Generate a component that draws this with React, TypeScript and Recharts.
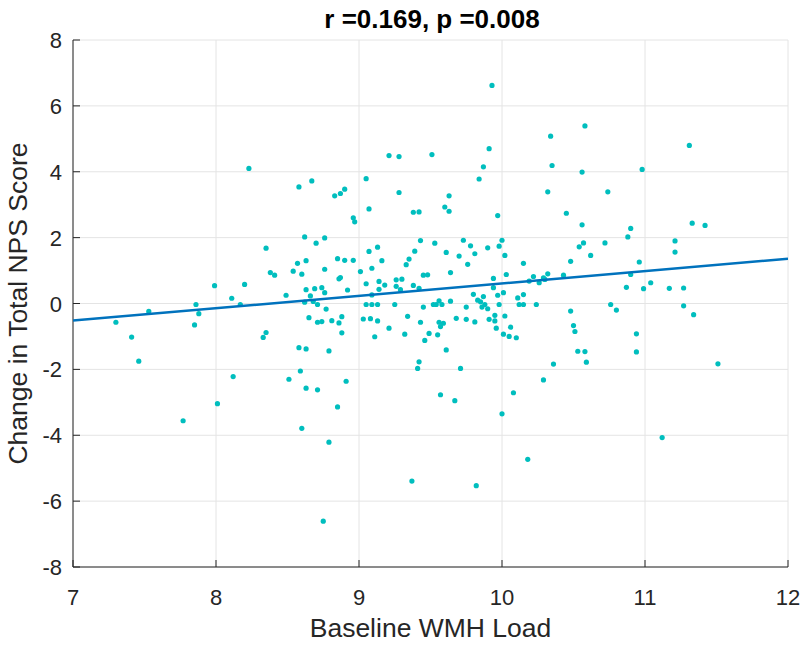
import React from 'react';
import { ScatterChart, Scatter, XAxis, YAxis, CartesianGrid } from 'recharts';

const xs = [
  8.23, 8.58, 8.67, 8.62, 8.70, 8.35, 8.63, 8.57, 8.38, 8.41, 8.54, 8.60, 7.99, 8.20, 8.11, 8.49, 8.63, 8.69, 8.66,
  9.93, 9.91, 9.87, 9.84, 9.21, 9.28, 9.51, 9.05, 8.83, 8.87, 8.90, 9.28, 9.07, 8.96, 8.97, 9.38, 9.42, 9.60, 9.63, 9.63, 9.97,
  8.76, 8.85, 8.90, 8.96, 8.76, 8.86, 8.87, 8.74, 8.76, 8.92, 9.01, 9.07, 9.13, 9.16, 9.09, 9.05, 9.09, 9.14, 9.14, 9.18,
  9.26, 9.30, 9.26, 9.29, 9.33, 9.35, 9.39, 9.43, 9.53, 9.38, 9.42, 9.45, 9.48, 9.61, 9.64, 9.73, 9.70, 9.76, 9.78, 9.81,
  9.90, 9.98, 10.00, 10.02, 10.03, 9.94, 9.94, 9.97, 10.01, 9.80, 9.87, 10.11, 10.15, 10.15, 10.19, 10.22, 10.26,
  10.58, 10.34, 11.31, 10.35, 10.56, 10.98, 10.32, 10.74, 10.45, 10.56, 10.90, 10.88, 11.33, 11.42, 11.21, 11.21, 10.57,
  10.54, 10.72, 10.62, 10.48, 10.96, 10.32, 10.43, 10.29, 10.30, 10.90, 10.87, 10.99, 11.04, 11.17, 11.27,
  7.86, 7.53, 7.88, 7.30, 7.85, 7.41, 7.46, 7.77, 8.01, 8.12, 8.17, 8.62, 8.68, 8.71, 8.65, 8.71, 8.33, 8.35, 8.58, 8.63,
  8.59, 8.51, 8.63, 8.71, 8.60,
  8.77, 8.74, 8.81, 8.86, 8.88, 8.88, 8.79, 8.91, 8.85, 8.79, 8.75, 9.37, 9.82, 10.18, 10.00, 10.08, 9.57, 9.67, 9.41, 9.42,
  9.71, 9.61, 9.32, 9.11, 9.21, 9.03, 9.08, 9.13, 9.34, 9.43, 9.46, 9.49, 9.55, 9.56, 9.57, 9.59, 9.56, 9.05, 9.09, 9.13,
  9.25, 9.45, 9.52, 9.54, 9.58, 9.64, 9.68, 9.75, 9.75, 9.81, 9.83, 9.85, 9.86, 9.88, 9.90, 9.91, 9.95, 9.95, 9.96, 9.98,
  10.02, 10.01, 10.05, 10.06, 10.10, 10.12, 10.15, 10.24,
  11.12, 10.29, 10.36, 11.51, 10.48, 10.50, 10.51, 10.53, 10.58, 10.59, 10.76, 10.80, 10.94, 10.94, 11.27, 11.34,
];
const ys = [
  4.10, 3.54, 3.72, 2.02, 1.83, 1.68, 1.30, 1.22, 0.94, 0.86, 0.98, 0.89, 0.54, 0.58, 0.16, 0.25, 0.42, 0.45, 0.23,
  6.62, 4.70, 4.15, 3.78, 4.49, 4.46, 4.52, 3.79, 3.27, 3.34, 3.47, 3.37, 2.87, 2.60, 2.48, 2.77, 2.78, 2.93, 3.27, 2.80, 2.67,
  1.99, 1.36, 1.31, 1.31, 1.04, 0.75, 0.79, 0.48, 0.33, 0.41, 0.97, 1.58, 1.71, 1.30, 1.07, 0.60, 0.26, 0.67, 0.43, 0.56,
  0.72, 0.74, 0.52, 0.42, 1.18, 1.35, 1.59, 1.91, 1.83, 0.55, 0.46, 0.86, 0.87, 1.55, 0.94, 1.92, 1.44, 1.19, 1.75, 1.51,
  1.69, 1.74, 1.92, 1.46, 0.88, 0.76, 0.48, 0.25, 0.33, 0.28, 0.21, 0.17, 0.27, 1.22, 0.68, 0.82, 0.63,
  5.39, 5.08, 4.80, 4.19, 3.99, 4.07, 3.39, 3.39, 2.74, 2.39, 2.28, 2.02, 2.44, 2.37, 1.90, 1.56, 1.84,
  1.72, 1.84, 1.46, 1.28, 1.26, 0.90, 0.86, 0.78, 0.73, 0.88, 0.49, 0.45, 0.63, 0.46, 0.47,
  -0.03, -0.24, -0.31, -0.57, -0.65, -1.02, -1.75, -3.56, -3.04, -2.22, -0.03, 0.04, 0.06, -0.03, -0.43, -0.57, -1.03, -0.88, -1.34, -1.38,
  -2.05, -2.30, -2.57, -2.62, -3.79,
  -0.17, -0.55, -0.52, -0.59, -0.40, -0.89, -1.44, -2.36, -3.14, -4.21, -6.61, -5.39, -5.53, -4.73, -3.35, -2.71, -2.77, -2.95, -1.97, -1.77,
  -1.97, -1.41, -0.93, -1.01, -0.75, -0.47, -0.46, -0.53, -0.39, -0.57, -1.12, -0.91, -0.95, -0.57, -0.70, -0.60, 0.08, -0.03, -0.03, -0.03,
  -0.03, -0.11, -0.03, -0.03, -0.03, 0.07, -0.45, -0.11, -0.48, -0.56, 0.10, 0.05, -0.11, -0.03, -0.16, -0.48, -0.36, -0.53, -0.75, -0.03,
  -0.38, -0.93, -1.00, -0.72, -1.04, -0.03, -0.03, -0.03,
  -4.07, -2.32, -1.84, -1.83, -0.23, -0.67, -0.85, -1.45, -1.46, -1.78, -0.03, -0.20, -0.92, -1.47, -0.07, -0.34,
];

const fitX = [7, 12];
const fitY = [-0.52, 1.36];

const xTicks = [7, 8, 9, 10, 11, 12];
const yTicks = [-8, -6, -4, -2, 0, 2, 4, 6, 8];

const titleText = 'r =0.169, p =0.008';
const xLabelText = 'Baseline WMH Load';
const yLabelText = 'Change in Total NPS Score';

const points = xs.map((x, i) => ({ x, y: ys[i] }));
const fitLine = fitX.map((x, i) => ({ x, y: fitY[i] }));

const AXIS = '#262626';
const FONT = 'Liberation Sans, Arial, Helvetica, sans-serif';
const DOT = '#00BEBE';
const LINE = '#0072BD';
const TICK_LEN = 7;

const BottomTick = (p: any) => (
  <g>
    <line x1={p.x} y1={p.y} x2={p.x} y2={p.y - TICK_LEN} stroke={AXIS} strokeWidth={1} />
    <text x={p.x} y={p.y + 38} textAnchor="middle" fontSize={22} fill={AXIS} fontFamily={FONT}>
      {String(p.payload.value)}
    </text>
  </g>
);
const TopTick = (p: any) => (
  <line x1={p.x} y1={p.y} x2={p.x} y2={p.y + TICK_LEN} stroke={AXIS} strokeWidth={1} />
);
const LeftTick = (p: any) => (
  <g>
    <line x1={p.x} y1={p.y} x2={p.x + TICK_LEN} y2={p.y} stroke={AXIS} strokeWidth={1} />
    <text x={p.x - 11} y={p.y + 8} textAnchor="end" fontSize={22} fill={AXIS} fontFamily={FONT}>
      {String(p.payload.value)}
    </text>
  </g>
);
const RightTick = (p: any) => (
  <line x1={p.x} y1={p.y} x2={p.x - TICK_LEN} y2={p.y} stroke={AXIS} strokeWidth={1} />
);

const Dot = (p: any) => <circle cx={p.cx} cy={p.cy} r={2.6} fill={DOT} />;
const NoDot = () => <g />;

export default function App() {
  return (
    <div style={{ position: 'absolute', left: 0, top: 0, width: 804, height: 648, background: '#fff' }}>
      <ScatterChart width={804} height={648} margin={{ top: 40, right: 16, bottom: 21, left: 0 }}>
        <XAxis
          xAxisId="b"
          type="number"
          dataKey="x"
          domain={[7, 12]}
          ticks={xTicks}
          orientation="bottom"
          height={60}
          tickSize={0}
          tickMargin={0}
          tickLine={false}
          axisLine={{ stroke: AXIS, strokeWidth: 1 }}
          tick={BottomTick}
          allowDataOverflow
        />
        <XAxis
          xAxisId="t"
          type="number"
          dataKey="x"
          domain={[7, 12]}
          ticks={xTicks}
          orientation="top"
          height={0}
          tickSize={0}
          tickMargin={0}
          tickLine={false}
          axisLine={{ stroke: AXIS, strokeWidth: 1 }}
          tick={TopTick}
          allowDataOverflow
        />
        <YAxis
          yAxisId="l"
          type="number"
          dataKey="y"
          domain={[-8, 8]}
          ticks={yTicks}
          orientation="left"
          width={73}
          tickSize={0}
          tickMargin={0}
          tickLine={false}
          axisLine={{ stroke: AXIS, strokeWidth: 1 }}
          tick={LeftTick}
          allowDataOverflow
        />
        <YAxis
          yAxisId="r"
          type="number"
          dataKey="y"
          domain={[-8, 8]}
          ticks={yTicks}
          orientation="right"
          width={0}
          tickSize={0}
          tickMargin={0}
          tickLine={false}
          axisLine={{ stroke: AXIS, strokeWidth: 1 }}
          tick={RightTick}
          allowDataOverflow
        />
        <CartesianGrid xAxisId="b" yAxisId="l" stroke="#e4e4e4" strokeWidth={1} />
        <Scatter xAxisId="b" yAxisId="l" data={points} shape={Dot} isAnimationActive={false} />
        <Scatter xAxisId="t" yAxisId="r" data={points} shape={NoDot} isAnimationActive={false} />
        <Scatter
          xAxisId="b"
          yAxisId="l"
          data={fitLine}
          shape={NoDot}
          line={{ stroke: LINE, strokeWidth: 2.5 }}
          isAnimationActive={false}
        />
      </ScatterChart>
      <svg width={804} height={648} style={{ position: 'absolute', left: 0, top: 0, pointerEvents: 'none' }}>
        <text x={432} y={28} textAnchor="middle" fontSize={26} fontWeight="bold" fill="#000" fontFamily={FONT}>
          {titleText}
        </text>
        <text x={430.5} y={637} textAnchor="middle" fontSize={26.5} fill={AXIS} fontFamily={FONT}>
          {xLabelText}
        </text>
        <text
          x={0}
          y={0}
          transform="translate(27,303.5) rotate(-90)"
          textAnchor="middle"
          fontSize={26.5}
          fill={AXIS}
          fontFamily={FONT}
        >
          {yLabelText}
        </text>
      </svg>
    </div>
  );
}
